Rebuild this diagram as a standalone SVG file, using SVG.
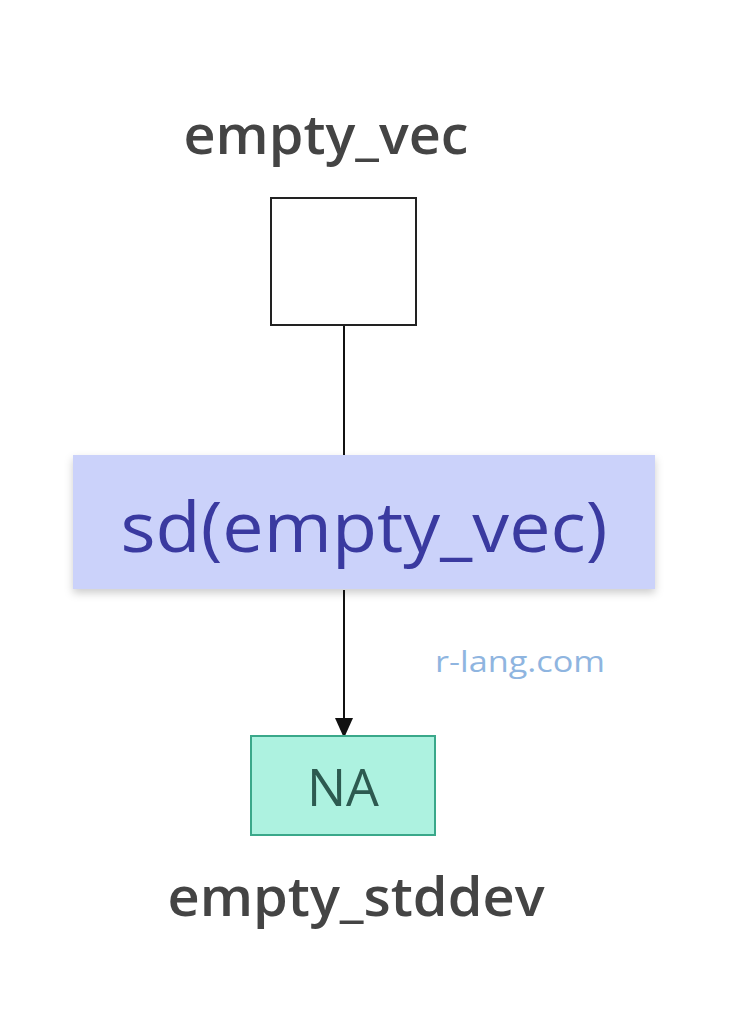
<svg xmlns="http://www.w3.org/2000/svg" width="743" height="1024" viewBox="0 0 743 1024">
<defs>
<style>
.lbl{font-family:"Open Sans","Noto Sans",sans-serif;fill:#444;font-size:54px;font-weight:600;text-anchor:middle}
</style>
<marker id="ah" markerWidth="20" markerHeight="20" refX="18" refY="9" orient="auto" markerUnits="userSpaceOnUse" viewBox="0 0 20 18"><path d="M0,0L20,9L0,18z" fill="#111"/></marker>
<filter id="sh" x="-10%" y="-10%" width="120%" height="130%"><feDropShadow dx="0" dy="4" stdDeviation="4" flood-color="#000" flood-opacity="0.2"/></filter>
</defs>
<rect width="743" height="1024" fill="#fff"/>
<g id="connectors" stroke="#111" stroke-width="2" fill="none">
<line x1="344" y1="326" x2="344" y2="455"/>
<line x1="344" y1="590" x2="344" y2="736" marker-end="url(#ah)"/>
</g>
<g id="empty_vec">
<text class="lbl" x="326" y="154" textLength="285" lengthAdjust="spacingAndGlyphs">empty_vec</text>
<rect x="271" y="198" width="145" height="127" fill="#fff" stroke="#222" stroke-width="2"/>
</g>
<g id="sd">
<rect x="73" y="455" width="582" height="134" fill="#cbd2fa" filter="url(#sh)"/>
<text x="364" y="552" font-family="Open Sans,Noto Sans,sans-serif" font-size="70" fill="#3a3aa0" text-anchor="middle" textLength="487" lengthAdjust="spacingAndGlyphs">sd(empty_vec)</text>
</g>
<text x="520" y="672" font-family="Open Sans,sans-serif" font-size="30" fill="#8fb5e0" text-anchor="middle" textLength="170" lengthAdjust="spacingAndGlyphs">r-lang.com</text>
<g id="empty_stddev">
<rect x="251" y="736" width="184" height="99" fill="#adf2e0" stroke="#3aa88a" stroke-width="2"/>
<text x="343" y="806" font-family="Open Sans,sans-serif" font-size="52" fill="#2d5a50" text-anchor="middle">NA</text>
<text class="lbl" x="356" y="916" textLength="377" lengthAdjust="spacingAndGlyphs">empty_stddev</text>
</g>
</svg>
